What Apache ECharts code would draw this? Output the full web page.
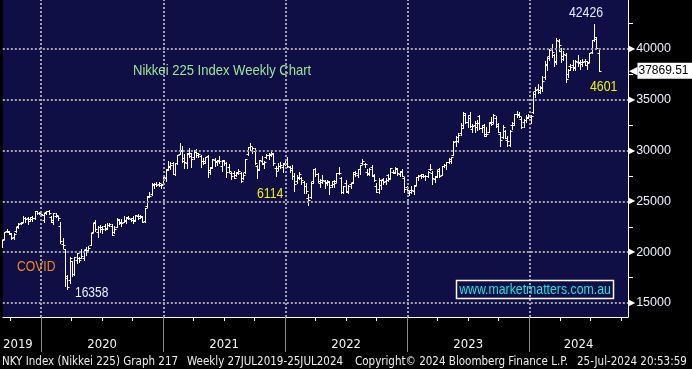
<!DOCTYPE html>
<html><head><meta charset="utf-8">
<script src="https://cdn.jsdelivr.net/npm/echarts@6/dist/echarts.min.js"></script>
<style>html,body{margin:0;padding:0;background:#000;}#c{width:692px;height:369px;}</style>
</head><body><div id="c"></div>
<script>
// Weekly bars (Friday dates), first week ending 2019-09-06
const firstWeek = '2019-09-06';
const opens = [
20620,21300,22050,22000,21800,21450,22050,22530,22870,23020,23400,23350,23250,23420,23380,24100,23830,
23780,23200,23950,24100,23500,22970,23600,23550,22600,20850,20300,17650,17280,19100,17850,19200,19450,19400,19400,20300,20200,20700,22000,23000,22000,22450,22330,22600,22400,22650,22600,22000,22500,23200,23000,22950,23100,23500,23300,23400,23200,23600,23600,23500,23100,24500,25500,25700,26700,26750,26700,26600,
26700,
27300,28200,28400,28800,27700,28800,29700,30000,29300,28800,29700,29500,29400,30000,29600,29500,29000,29000,29500,27900,28400,29100,28900,29100,28500,29000,28800,28400,27800,27800,27600,27900,27800,27300,27900,29700,30400,30100,30000,28500,28200,29000,28700,29400,29600,29700,29700,28300,28300,28500,28400,28700,
29100,28400,28300,27500,27000,27300,27300,26900,26500,25300,25400,27000,28200,27700,26800,26900,27000,26900,26900,26600,27000,27000,27800,27300,25900,26800,26000,26700,26900,27700,27600,28200,28800,28700,27900,27800,28400,27500,26500,26200,26600,27200,27000,27600,27300,27900,27800,28200,27700,28000,27300,26400,
25800,26100,26000,26600,27400,27600,27500,27500,27500,28200,27800,27200,27500,28200,27600,28500,28600,28900,29000,29600,30900,31300,31700,32500,33500,32800,33500,32100,32500,32700,33400,32200,32300,31600,31800,32800,32800,33200,32600,31600,31300,31900,31000,30600,32500,32700,33600,33500,33100,32800,33000,33300,
33300,33800,35900,36100,36000,36300,37200,38400,39300,40100,39400,38800,40800,39800,39300,39400,37500,38300,38400,38100,38700,38700,38700,38800,38400,38700,39700,40900,41000,39600];
const highs = [
21240,22019,22255,22100,21900,21850,22500,22830,23010,23590,23500,23420,23430,23520,24023,24100,23930,
23780,23900,24080,24115,23560,23870,23860,23560,22950,21400,20350,17800,19560,19130,19560,19920,19560,20330,20180,20500,20600,21920,22900,23180,22600,22690,22600,22740,22900,22890,22780,22600,23340,23250,23300,23580,23500,23600,23400,23550,23650,23720,23700,23550,24350,25520,25900,26780,26800,26900,26900,26700,
27600,
28200,28980,28860,28900,28800,29600,30714,30500,29700,29800,30300,29800,30100,30200,29800,29600,29300,29400,29600,28400,29200,29300,29100,29500,29100,29100,28900,28700,27900,28000,27900,28200,27900,27800,29200,30400,30795,30400,30300,28600,29100,29500,29000,29700,29800,29960,29800,28500,28800,28900,28800,29100,
29400,28500,28600,27800,27600,27900,27400,27000,26800,25700,26900,28200,28300,27800,27200,27600,27100,27100,27000,27000,27100,27800,28400,27400,26500,27100,26600,26800,27900,28000,28200,28600,29200,28800,28200,28300,28600,27700,26800,27300,27100,27300,27300,27700,28300,28100,28400,28300,28000,28200,27400,26500,
26000,26500,26600,27400,27600,27700,27700,27600,28000,28700,28000,27500,28100,28300,28500,28700,28900,29300,29400,30900,31400,31700,32700,33800,33700,33500,33800,32600,32900,33000,33500,32500,32600,32300,32800,33300,33600,33400,32700,31800,32500,32000,31400,32000,32800,33600,33850,33800,33300,33100,33500,33600,
33500,35800,36240,36600,36400,37300,38800,39200,40000,40470,39500,41087,41000,40100,39800,39600,38000,38500,38900,38900,39400,38900,39000,39000,38800,39600,40900,42426,41200,40000];
const lows = [
20560,21290,21960,21750,21280,21300,21980,22380,22770,22950,23000,22730,23080,23040,23300,23760,23760,
23630,22950,23780,23750,22970,22780,23510,23150,20916,20450,16690,16358,17000,17700,17800,18980,19070,19380,19250,19770,20100,20670,21980,22100,21530,22000,21900,22200,22300,22600,21710,21900,22450,22800,22600,22950,22900,23300,23030,22900,23120,23300,23350,22950,22950,24400,25400,25600,26300,26500,26500,26300,
26700,
27000,28100,28200,27650,27600,28700,29700,28900,28300,28300,29400,28400,29200,29400,29400,28400,28700,28800,27400,27700,28300,28500,28600,28800,28000,28600,27400,27900,27200,27270,27500,27700,26950,27200,27800,29600,30100,29800,28700,27300,28100,28700,28300,29300,29200,29500,28600,27500,28100,28300,27900,28600,
28400,27900,27200,26000,26800,27200,26700,25800,25800,24681,25300,26800,27500,26900,26400,26800,26300,26600,25700,26400,26400,26900,27700,25800,25800,25900,25800,26300,26800,27500,27400,27700,28700,28400,27600,27600,27500,27000,25900,25800,26200,26700,26700,27000,27200,27800,27800,27600,27500,27500,25900,26000,
25600,25800,25700,26600,27100,27300,27400,27100,27400,28100,26700,26900,27400,27400,27600,28400,28200,28800,28800,29600,30500,30800,31500,32200,32700,32300,32300,31800,31800,32000,32100,31800,31400,31400,31800,32500,32700,32300,31800,30500,31200,31200,30500,30500,32100,32500,33300,33300,32200,32300,32800,33200,
32700,33700,35300,35700,35700,35900,37000,37900,38900,39200,38300,38500,39800,38700,38900,36733,37200,37900,37900,37900,38300,38000,38300,38400,38000,38700,39600,40800,40000,37825];
const closes = [
21199,21988,22079,21878,21410,21799,22493,22800,22851,23392,23303,23113,23294,23354,24023,23816,23837,
23657,23850,24041,23827,23205,23827,23687,23387,21143,20750,17431,16553,19389,17820,19498,19897,19262,19619,20179,20037,20388,21878,22863,22305,22478,22512,22306,22290,22696,22751,21710,22329,23289,22920,22882,23205,23406,23360,23204,23029,23619,23410,23516,22977,24325,25385,25527,26644,26751,26652,26763,26656,
27444,
28139,28519,28631,27663,28779,29520,30017,28966,28864,29717,29792,29176,29854,29768,29683,29020,28812,29357,28084,28317,29149,28941,28948,28964,29066,28783,27940,28003,27548,27283,27820,27977,27013,27641,29128,30381,30500,30248,28771,28049,29069,28804,28892,29611,29609,29745,28751,28029,28437,28545,28782,28791,
28478,28124,27522,26717,27439,27696,27122,26476,25985,25162,26827,28149,27666,26985,27093,27105,26848,27003,26427,26739,26781,27761,27824,25963,26491,25935,26517,26788,27915,27802,28176,28547,28930,28641,27650,28215,27568,27153,25937,27116,27091,26891,27105,27199,28264,27900,28283,27777,27901,27527,26235,26095,
25973,26119,26553,27382,27509,27671,27513,27453,27927,28143,27333,27385,28041,27518,28493,28564,28856,29157,29388,30808,30916,31524,32265,33706,32781,33189,32388,32391,32304,32759,32192,32474,31450,31624,32710,32606,33533,32402,31858,30995,32315,31259,30991,31950,32568,33585,33625,33431,32307,32970,33169,33464,
33377,35577,35963,35751,36158,36897,38487,39098,39910,39688,38707,40888,40369,38992,39523,37068,37934,38236,38229,38787,38646,38487,38683,38814,38596,39583,40912,41190,40063,37869.51];

const yTicks = [15000, 20000, 25000, 30000, 35000, 40000];
const yMinorTicks = [17500, 22500, 27500, 32500, 37500, 42500];
const yearStarts = ['2020-01-01','2021-01-01','2022-01-01','2023-01-01','2024-01-01'];
const quarterStarts = ['2019-10-01','2020-01-01','2020-04-01','2020-07-01','2020-10-01','2021-01-01','2021-04-01','2021-07-01','2021-10-01','2022-01-01','2022-04-01','2022-07-01','2022-10-01','2023-01-01','2023-04-01','2023-07-01','2023-10-01','2024-01-01','2024-04-01','2024-07-01','2024-10-01'];
const yearLabelDates = ['2019-10-24','2020-07-02','2021-07-02','2022-07-02','2023-07-02','2024-05-27'];
const lastPrice = 37869.51;
const axisStart = '2019-09-09', axisEnd = '2024-10-22';

function toTs(s){const p=s.split('-').map(Number);return Date.UTC(p[0],p[1]-1,p[2]);}
const DAY = 86400000;
const t0 = toTs(firstWeek);
const bars = closes.map((c,i)=>[t0 + i*7*DAY, opens[i], highs[i], lows[i], c]);

const COND = '"DejaVu Sans Condensed","DejaVu Sans",sans-serif';
const ARIAL = '"Liberation Sans",Arial,sans-serif';

function renderOHLC(params, api){
  const t = api.value(0);
  const pO = api.coord([t, api.value(1)]);
  const pH = api.coord([t, api.value(2)]);
  const pL = api.coord([t, api.value(3)]);
  const pC = api.coord([t, api.value(4)]);
  const x = Math.round(pO[0]) + 0.5;
  const st = {stroke:'#ffffff', lineWidth:1};
  const yo = Math.round(pO[1]) + 0.5, yc = Math.round(pC[1]) + 0.5;
  return {type:'group', children:[
    {type:'line', shape:{x1:x, y1:Math.round(pH[1]), x2:x, y2:Math.round(pL[1])+1}, style:st},
    {type:'line', shape:{x1:x-2, y1:yo, x2:x, y2:yo}, style:st},
    {type:'line', shape:{x1:x, y1:yc, x2:x+2, y2:yc}, style:st}
  ]};
}

// narrow text helper (horizontally condensed Liberation Sans)
function ntext(text, x, y, fill, size, sx, align){
  return {type:'text', z:10, x:x, y:y, scaleX:sx,
    style:{text:text, x:0, y:0, fill:fill, font:size+'px '+ARIAL, textAlign:align||'left', textVerticalAlign:'middle'}};
}

const gridLineStyle = {color:'#a2a2b0', type:[2,2], width:2};
const chart = echarts.init(document.getElementById('c'), null, {renderer:'canvas'});
chart.setOption({
  animation:false,
  backgroundColor:'#000000',
  grid:{left:0, right:64, top:0, bottom:52, show:true, backgroundColor:'#0f0e45', borderWidth:0},
  xAxis:[{
    type:'value', gridIndex:0, position:'bottom', min:toTs(axisStart), max:toTs(axisEnd),
    axisLine:{show:true, lineStyle:{color:'#ffffff', width:1}},
    axisTick:{show:true, customValues:quarterStarts.map(toTs), length:4, lineStyle:{color:'#ffffff'}},
    axisLabel:{show:false}, splitLine:{show:false}
  },{
    type:'value', gridIndex:0, position:'bottom', min:toTs(axisStart), max:toTs(axisEnd),
    axisLine:{show:false},
    axisTick:{show:true, customValues:yearStarts.map(toTs), length:35, lineStyle:{color:'#8a8a8a', width:1}},
    axisLabel:{show:true, customValues:yearLabelDates.map(toTs), margin:21,
      formatter:(v)=>String(new Date(v).getUTCFullYear()),
      color:'#f4f4f4', fontFamily:COND, fontSize:13},
    splitLine:{show:false}
  }],
  yAxis:{
    type:'value', position:'right', min:13622, max:44823,
    axisLine:{show:true, lineStyle:{color:'#ffffff', width:1}},
    axisTick:{show:true, customValues:yMinorTicks, length:5, lineStyle:{color:'#ffffff'}},
    axisLabel:{show:true, customValues:yTicks, margin:1,
      formatter:(v)=>'{t|\u25B6}{v|'+v+'}',
      rich:{t:{fontFamily:'DejaVu Sans', fontSize:8, color:'#ffffff', padding:[0,1,0,0]},
            v:{fontFamily:ARIAL, fontSize:12.5, color:'#eeeeff'}}},
    splitLine:{show:false}
  },
  series:[{
    type:'line', data:[], z:1, silent:true,
    markLine:{silent:true, symbol:['none','none'], animation:false,
      label:{show:false}, lineStyle:gridLineStyle,
      data: yTicks.map(v=>({yAxis:v})).concat(yearStarts.map(d=>({xAxis:toTs(d)})))
    }
  },{
    type:'line', data:[], z:5, silent:true,
    markLine:{silent:true, symbol:['none','none'], animation:false,
      lineStyle:{color:'rgba(0,0,0,0)', width:1, type:'solid'},
      label:{show:true, position:'end', distance:1,
        formatter:'{a|\u25C0}{b|'+lastPrice.toFixed(2)+'}',
        rich:{a:{fontFamily:'DejaVu Sans', fontSize:11, color:'#ffffff', lineHeight:17},
              b:{fontFamily:ARIAL, fontSize:12, color:'#000000', backgroundColor:'#ffffff', padding:[2,4,2,1]}}},
      data:[{yAxis:lastPrice}]
    }
  },{
    type:'custom', name:'NKY', data:bars, renderItem:renderOHLC, clip:true, z:3,
    encode:{x:0, y:[1,2,3,4]}
  }],
  graphic:[
    ntext('Nikkei 225 Index Weekly Chart', 133, 71, '#9ae89a', 15, 0.87),
    ntext('42426', 586, 13, '#e2eaff', 15, 0.82, 'center'),
    ntext('4601', 590, 87, '#f2f200', 15, 0.82),
    ntext('6114', 257, 194, '#f2f200', 15, 0.82),
    ntext('16358', 75, 293, '#e8f0ff', 15, 0.8),
    ntext('COVID', 17, 267, '#f28a1c', 15, 0.81),
    {type:'rect', z:10, shape:{x:456.5, y:280.5, width:157, height:18}, style:{fill:'none', stroke:'#ffffff', lineWidth:1.5}},
    ntext('www.marketmatters.com.au', 535, 290, '#1ee3e6', 15, 0.82, 'center'),
    {type:'text', z:10, style:{text:'NKY Index (Nikkei 225) Graph 217', x:2, y:362, fill:'#eeeeee', font:'11.5px '+COND, textVerticalAlign:'middle'}},
    {type:'text', z:10, style:{text:'Weekly 27JUL2019-25JUL2024', x:187, y:362, fill:'#eeeeee', font:'11.5px '+COND, textVerticalAlign:'middle'}},
    {type:'text', z:10, style:{text:'Copyright\u00A9 2024 Bloomberg Finance L.P.', x:355, y:362, fill:'#eeeeee', font:'11.5px '+COND, textVerticalAlign:'middle'}},
    {type:'text', z:10, style:{text:'25-Jul-2024 20:53:59', x:577, y:362, fill:'#eeeeee', font:'11.5px '+COND, textVerticalAlign:'middle'}}
  ]
});
</script></body></html>
